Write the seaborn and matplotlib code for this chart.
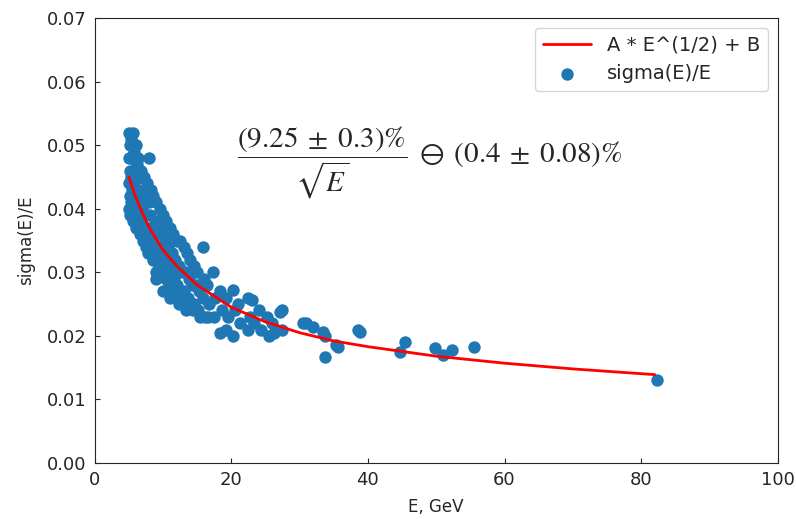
import matplotlib
matplotlib.use('Agg')
import matplotlib.pyplot as plt
import seaborn as sns
import pandas as pd
import numpy as np

sns.set_style('ticks', {'xtick.direction': 'in', 'ytick.direction': 'in'})
plt.rcParams['font.family'] = ['DejaVu Sans']
plt.rcParams['mathtext.fontset'] = 'stix'

energy = [
    5.0, 5.1, 5.0, 5.2, 5.0, 5.1, 5.0, 5.2,
    5.3, 5.4, 5.3, 5.5, 5.3,
    5.6, 5.8, 5.6, 5.7, 5.9, 5.6,
    6.0, 6.2, 6.1, 6.0, 6.3, 6.0,
    6.4, 6.6, 6.5, 6.4, 6.7,
    6.8, 7.0, 6.9, 6.8, 7.1,
    7.2, 7.4, 7.3, 7.2, 7.5,
    7.6, 7.9, 7.7, 7.6, 7.8,
    8.0, 8.2, 8.1, 8.3, 8.0,
    8.5, 8.8, 8.6, 8.5, 8.9,
    9.0, 9.3, 9.1, 9.4, 9.0,
    9.5, 9.8, 9.6, 9.7,
    10.0, 10.3, 10.1, 10.4, 10.0,
    10.5, 10.8, 10.6, 10.9,
    11.0, 11.3, 11.1, 11.4, 11.0,
    11.5, 11.8, 11.6, 11.9,
    12.0, 12.3, 12.1, 12.4,
    12.5, 12.8, 12.6,
    13.0, 13.3, 13.1, 13.4,
    13.5, 13.8, 13.6,
    14.0, 14.3, 14.1, 14.4,
    14.5, 14.8, 14.6,
    15.0, 15.3, 15.1, 15.4,
    15.8, 16.0, 15.8, 16.1,
    16.5, 16.8, 16.6,
    17.3, 17.6, 17.4,
    18.3, 18.6, 18.3,
    19.2, 19.5, 19.2,
    20.2, 20.5, 20.2,
    21.0, 21.3,
    22.4, 22.7, 22.4,
    23.0, 23.3,
    24.0, 24.3,
    25.2, 25.5,
    26.0, 26.3,
    27.4, 27.1, 27.4,
    30.5, 31.0, 32.0, 33.4, 33.7, 33.7,
    35.4, 35.6, 38.5, 38.8,
    44.7, 45.4, 49.8, 51.0, 52.3, 55.6,
    82.3,
]
sigma_over_e = [
    0.052, 0.050, 0.048, 0.046, 0.044, 0.042, 0.040, 0.039,
    0.051, 0.048, 0.045, 0.043, 0.041,
    0.052, 0.049, 0.046, 0.044, 0.041, 0.038,
    0.050, 0.047, 0.045, 0.042, 0.040, 0.037,
    0.048, 0.045, 0.041, 0.039, 0.036,
    0.046, 0.043, 0.040, 0.038, 0.035,
    0.045, 0.042, 0.039, 0.036, 0.034,
    0.044, 0.041, 0.037, 0.035, 0.033,
    0.048, 0.043, 0.039, 0.036, 0.033,
    0.042, 0.038, 0.035, 0.032, 0.030,
    0.041, 0.037, 0.034, 0.031, 0.029,
    0.040, 0.036, 0.033, 0.030,
    0.039, 0.035, 0.032, 0.029, 0.027,
    0.038, 0.034, 0.031, 0.028,
    0.037, 0.033, 0.030, 0.027, 0.026,
    0.036, 0.032, 0.029, 0.026,
    0.035, 0.031, 0.028, 0.025,
    0.035, 0.030, 0.027,
    0.034, 0.030, 0.027, 0.024,
    0.033, 0.029, 0.026,
    0.032, 0.028, 0.025, 0.024,
    0.031, 0.028, 0.025,
    0.030, 0.027, 0.024, 0.023,
    0.034, 0.029, 0.026, 0.023,
    0.028, 0.025, 0.023,
    0.030, 0.026, 0.023,
    0.027, 0.024, 0.0204,
    0.026, 0.023, 0.021,
    0.0272, 0.024, 0.020,
    0.025, 0.022,
    0.026, 0.023, 0.021,
    0.0256, 0.022,
    0.024, 0.021,
    0.023, 0.020,
    0.022, 0.0205,
    0.024, 0.0238, 0.021,
    0.022, 0.022, 0.0214, 0.0206, 0.020, 0.0167,
    0.0186, 0.0183, 0.021, 0.0206,
    0.0175, 0.019, 0.0181, 0.017, 0.0178, 0.0183,
    0.0131,
]

# fitted curve
fit_energy = [5, 6, 7, 8, 10, 12, 15, 20, 25, 30, 35, 40, 50, 60, 70, 82]
fit_sigma = [0.0450, 0.0418, 0.0393, 0.0370, 0.0335, 0.0310, 0.0280, 0.0245,
             0.0222, 0.0205, 0.0192, 0.0183, 0.0168, 0.0157, 0.0148, 0.0139]

points = pd.DataFrame({'E': energy, 'sigma': sigma_over_e})
fit = pd.DataFrame({'E': fit_energy, 'sigma': fit_sigma})

fig = plt.figure(figsize=(7.96, 5.19), dpi=100)
ax = fig.add_axes([0.119, 0.108, 0.858, 0.857])

sns.scatterplot(data=points, x='E', y='sigma', ax=ax, color='#1f77b4',
                s=80, linewidth=0, label='sigma(E)/E', zorder=2)
sns.lineplot(data=fit, x='E', y='sigma', ax=ax, color='red', lw=2,
             estimator=None, sort=False, label='A * E^(1/2) + B', zorder=3)

ax.set_xlim(0, 100)
ax.set_ylim(0, 0.07)
ax.set_xticks([0, 20, 40, 60, 80, 100])
ax.set_yticks(np.arange(0, 0.071, 0.01))
ax.set_yticklabels([f'{v:.2f}' for v in np.arange(0, 0.071, 0.01)])
ax.tick_params(labelsize=13, pad=6)
ax.set_xlabel('E, GeV', fontsize=12, labelpad=6)
ax.set_ylabel('sigma(E)/E', fontsize=12, labelpad=8)

ax.text(20.8, 0.0472,
        r'$\dfrac{(9.25\;\pm\;0.3)\%}{\sqrt{E}}\;\ominus\;(0.4\;\pm\;0.08)\%$',
        fontsize=21, ha='left', va='center')

handles, labels = ax.get_legend_handles_labels()
ax.legend(handles[::-1], labels[::-1], loc='upper right', fontsize=14,
          handlelength=2.5)

fig.savefig('out.png', dpi=100)
